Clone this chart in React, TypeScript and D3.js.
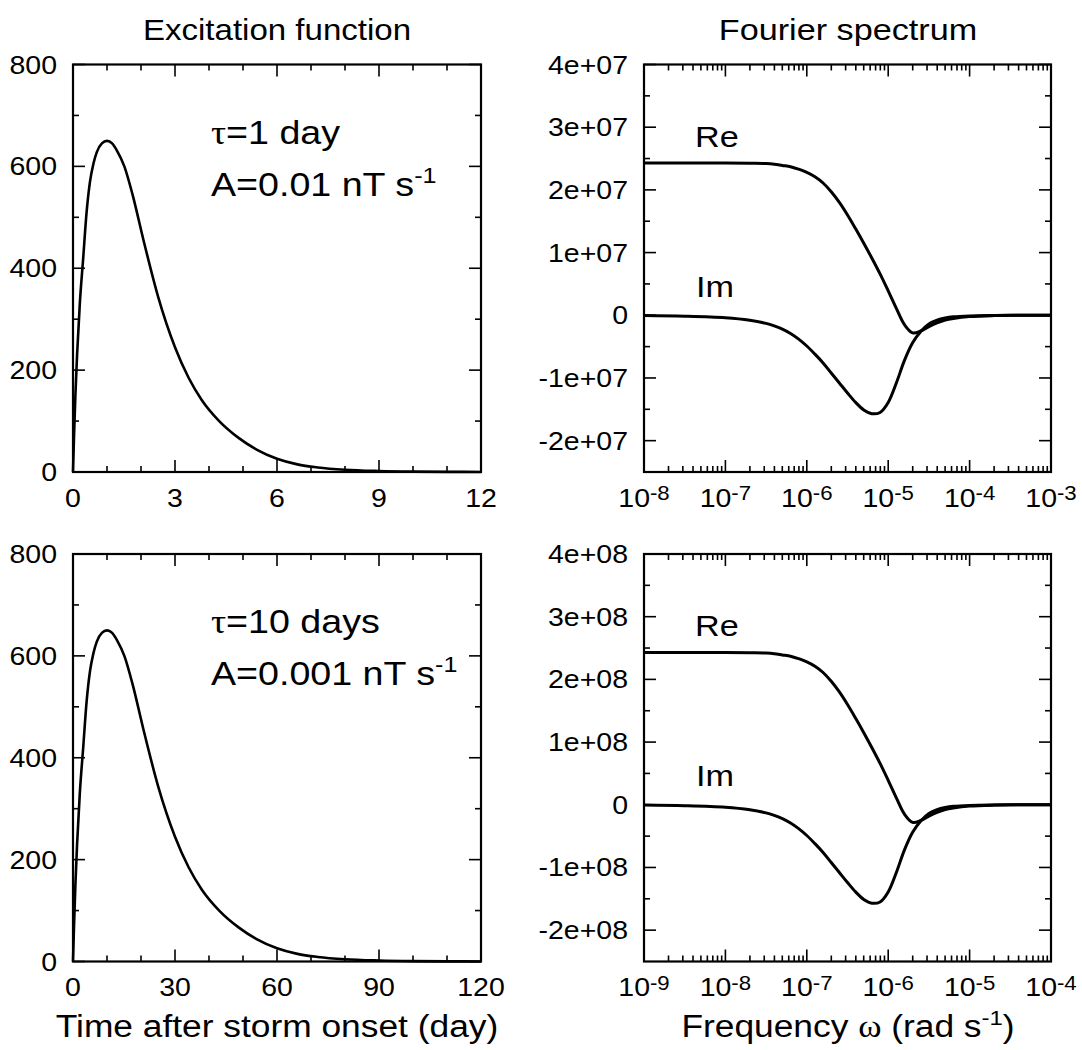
import React from 'react';
import * as d3 from 'd3';

const SX = 1.14;
const FONT = '"Liberation Sans", Arial, Helvetica, sans-serif';
const SERIF = '"Liberation Serif", "Times New Roman", serif';

// ---- Excitation function data ----
const daysTau1 = [0, 0.03, 0.07, 0.12, 0.2, 0.3, 0.4, 0.5, 0.6, 0.7, 0.85, 1.0, 1.15, 1.3, 1.51, 1.75, 2.07, 2.5, 3.0, 3.4, 3.79, 4.3, 4.87, 5.4, 6.0, 6.6, 7.2, 8.0, 9.0, 10.0, 11.0, 12.0];
const daysTau10 = [0, 0.3, 0.7, 1.2, 2, 3, 4, 5, 6, 7, 8.5, 10, 11.5, 13, 15.1, 17.5, 20.7, 25, 30, 34, 37.9, 43, 48.7, 54, 60, 66, 72, 80, 90, 100, 110, 120];
const excitationTau1 = [0, 70, 150, 230, 330, 420, 510, 570, 605, 628, 645, 650, 645, 630, 600, 545, 456, 345, 245, 185, 141, 100, 67, 44, 26, 15, 9, 4.5, 2, 0.8, 0.3, 0.1];
const excitationTau10 = [0, 70, 150, 230, 330, 420, 510, 570, 605, 628, 645, 650, 645, 630, 600, 545, 456, 345, 245, 185, 141, 100, 67, 44, 26, 15, 9, 4.5, 2, 0.8, 0.3, 0.1];

// ---- Fourier spectrum data ----
// log10 of angular frequency (rad/s)
const logOmegaTop = [-8, -7.5, -7, -6.7, -6.5, -6.4, -6.3, -6.2, -6.1, -6.0, -5.9, -5.8, -5.7, -5.6, -5.5, -5.4, -5.3, -5.2, -5.1, -5.0, -4.9, -4.8, -4.7, -4.6, -4.5, -4.4, -4.3, -4.2, -4.0, -3.7, -3.3, -3];
const logOmegaBottom = [-9, -8.5, -8, -7.7, -7.5, -7.4, -7.3, -7.2, -7.1, -7.0, -6.9, -6.8, -6.7, -6.6, -6.5, -6.4, -6.3, -6.2, -6.1, -6.0, -5.9, -5.8, -5.7, -5.6, -5.5, -5.4, -5.3, -5.2, -5.0, -4.7, -4.3, -4];
const reTop = [2.43e7, 2.43e7, 2.43e7, 2.425e7, 2.42e7, 2.41e7, 2.39e7, 2.37e7, 2.33e7, 2.28e7, 2.21e7, 2.11e7, 1.97e7, 1.8e7, 1.6e7, 1.38e7, 1.15e7, 0.91e7, 0.66e7, 0.39e7, 0.11e7, -0.15e7, -0.28e7, -0.25e7, -0.18e7, -0.12e7, -0.075e7, -0.05e7, -0.02e7, -0.005e7, 0, 0];
const imTop = [-0.005e7, -0.015e7, -0.04e7, -0.08e7, -0.13e7, -0.17e7, -0.22e7, -0.29e7, -0.38e7, -0.49e7, -0.62e7, -0.76e7, -0.92e7, -1.08e7, -1.24e7, -1.39e7, -1.51e7, -1.57e7, -1.55e7, -1.39e7, -1.08e7, -0.72e7, -0.44e7, -0.26e7, -0.14e7, -0.08e7, -0.045e7, -0.025e7, -0.01e7, -0.003e7, 0, 0];
const reBottom = [2.43e8, 2.43e8, 2.43e8, 2.425e8, 2.42e8, 2.41e8, 2.39e8, 2.37e8, 2.33e8, 2.28e8, 2.21e8, 2.11e8, 1.97e8, 1.8e8, 1.6e8, 1.38e8, 1.15e8, 0.91e8, 0.66e8, 0.39e8, 0.11e8, -0.15e8, -0.28e8, -0.25e8, -0.18e8, -0.12e8, -0.075e8, -0.05e8, -0.02e8, -0.005e8, 0, 0];
const imBottom = [-0.005e8, -0.015e8, -0.04e8, -0.08e8, -0.13e8, -0.17e8, -0.22e8, -0.29e8, -0.38e8, -0.49e8, -0.62e8, -0.76e8, -0.92e8, -1.08e8, -1.24e8, -1.39e8, -1.51e8, -1.57e8, -1.55e8, -1.39e8, -1.08e8, -0.72e8, -0.44e8, -0.26e8, -0.14e8, -0.08e8, -0.045e8, -0.025e8, -0.01e8, -0.003e8, 0, 0];

// ---- tick definitions ----
const ticksExcY = [0, 200, 400, 600, 800];
const ticksDaysTau1 = [0, 3, 6, 9, 12];
const ticksDaysTau10 = [0, 30, 60, 90, 120];
const ticksSpecTop = [-2e7, -1e7, 0, 1e7, 2e7, 3e7, 4e7];
const ticksSpecBottom = [-2e8, -1e8, 0, 1e8, 2e8, 3e8, 4e8];
const labelsSpecTop = ['-2e+07', '-1e+07', '0', '1e+07', '2e+07', '3e+07', '4e+07'];
const labelsSpecBottom = ['-2e+08', '-1e+08', '0', '1e+08', '2e+08', '3e+08', '4e+08'];
const decadesTop = [-8, -7, -6, -5, -4, -3];
const decadesBottom = [-9, -8, -7, -6, -5, -4];

type TProps = { x: number; y: number; size: number; anchor?: string; children?: any; family?: string };
function T({ x, y, size, anchor = 'start', children, family = FONT }: TProps) {
  return (
    <text transform={`translate(${x},${y}) scale(${SX},1)`} fontSize={size} textAnchor={anchor} fontFamily={family} fill="#000">
      {children}
    </text>
  );
}

const MAJ = 12;
const MIN = 6;
const TICK_FS = 25;

function Frame({ xs, ys, xMajor, xMinor, yMajor, yMinor, xLabel, yLabels }: any) {
  const [x0, x1] = xs.range();
  const [y1, y0] = ys.range();
  const els: any[] = [];
  xMinor.forEach((v: number, i: number) => {
    const x = xs(v);
    els.push(<line key={'xm' + i} x1={x} x2={x} y1={y1} y2={y1 - MIN} />);
    els.push(<line key={'xmt' + i} x1={x} x2={x} y1={y0} y2={y0 + MIN} />);
  });
  xMajor.forEach((v: number, i: number) => {
    const x = xs(v);
    els.push(<line key={'xM' + i} x1={x} x2={x} y1={y1} y2={y1 - MAJ} />);
    els.push(<line key={'xMt' + i} x1={x} x2={x} y1={y0} y2={y0 + MAJ} />);
  });
  yMinor.forEach((v: number, i: number) => {
    const y = ys(v);
    els.push(<line key={'ym' + i} x1={x0} x2={x0 + MIN} y1={y} y2={y} />);
    els.push(<line key={'ymr' + i} x1={x1} x2={x1 - MIN} y1={y} y2={y} />);
  });
  yMajor.forEach((v: number, i: number) => {
    const y = ys(v);
    els.push(<line key={'yM' + i} x1={x0} x2={x0 + MAJ} y1={y} y2={y} />);
    els.push(<line key={'yMr' + i} x1={x1} x2={x1 - MAJ} y1={y} y2={y} />);
  });
  return (
    <g>
      <g stroke="#000" strokeWidth={1.6}>{els}</g>
      <rect x={x0} y={y0} width={x1 - x0} height={y1 - y0} fill="none" stroke="#000" strokeWidth={2.2} />
      {xMajor.map((v: number, i: number) => (
        <g key={'xl' + i}>{xLabel(v, xs(v), y1 + 34.5)}</g>
      ))}
      {yMajor.map((v: number, i: number) => (
        <T key={'yl' + i} x={x0 - 16} y={ys(v) + 9} size={TICK_FS} anchor="end">{yLabels[i]}</T>
      ))}
    </g>
  );
}

function linearLabel(v: number, x: number, y: number) {
  return <T x={x} y={y} size={TICK_FS} anchor="middle">{String(v)}</T>;
}
function logLabel(v: number, x: number, y: number) {
  const e = Math.round(Math.log10(v));
  return (
    <T x={x} y={y} size={TICK_FS} anchor="middle">
      <tspan>10</tspan>
      <tspan fontSize={19.5} dy={-6.5}>{String(e)}</tspan>
    </T>
  );
}

function ExcPanel({ y0, y1, days, vals, dayTicks, tauText, aText }: any) {
  const xs = d3.scaleLinear().domain([0, dayTicks[dayTicks.length - 1]]).range([73, 481]);
  const ys = d3.scaleLinear().domain([0, 800]).range([y1, y0]);
  const step = dayTicks[1] / 3;
  const xMinor = d3.range(0, dayTicks[dayTicks.length - 1] + 1e-9, step).filter((v) => !dayTicks.some((t: number) => Math.abs(t - v) < 1e-6));
  const yMinor = [100, 300, 500, 700];
  const line = d3.line<[number, number]>().x((d) => xs(d[0])).y((d) => ys(d[1])).curve(d3.curveMonotoneX);
  const pts = days.map((d: number, i: number) => [d, vals[i]] as [number, number]);
  return (
    <g>
      <path d={line(pts) || ''} fill="none" stroke="#000" strokeWidth={2.6} strokeLinejoin="round" />
      <Frame xs={xs} ys={ys} xMajor={dayTicks} xMinor={xMinor} yMajor={ticksExcY} yMinor={yMinor} xLabel={linearLabel} yLabels={ticksExcY.map(String)} />
      <T x={211} y={y0 + 79} size={33}>
        <tspan fontFamily={SERIF}>τ</tspan>
        <tspan>{tauText}</tspan>
      </T>
      <T x={211} y={y0 + 131} size={33}>
        <tspan>{aText}</tspan>
        <tspan fontSize={22} dy={-13}>-1</tspan>
      </T>
    </g>
  );
}

function SpecPanel({ y0, y1, logOmega, re, im, decades, yTicks, yLabels }: any) {
  const xs = d3.scaleLog().domain([Math.pow(10, decades[0]), Math.pow(10, decades[decades.length - 1])]).range([644, 1051]);
  const unit = yTicks[3] - yTicks[2];
  const ys = d3.scaleLinear().domain([-2.5 * unit, 4 * unit]).range([y1, y0]);
  const xMajor = decades.map((e: number) => Math.pow(10, e));
  const xMinor: number[] = [];
  decades.slice(0, -1).forEach((e: number) => {
    for (let k = 2; k <= 9; k++) xMinor.push(k * Math.pow(10, e));
  });
  const yMinor = [-1.5, -0.5, 0.5, 1.5, 2.5, 3.5].map((k) => k * unit);
  const line = d3.line<[number, number]>().x((d) => xs(d[0])).y((d) => ys(d[1])).curve(d3.curveCatmullRom.alpha(0.5));
  const rePts = logOmega.map((l: number, i: number) => [Math.pow(10, l), re[i]] as [number, number]);
  const imPts = logOmega.map((l: number, i: number) => [Math.pow(10, l), im[i]] as [number, number]);
  return (
    <g>
      <path d={line(rePts) || ''} fill="none" stroke="#000" strokeWidth={3} strokeLinejoin="round" />
      <path d={line(imPts) || ''} fill="none" stroke="#000" strokeWidth={3} strokeLinejoin="round" />
      <Frame xs={xs} ys={ys} xMajor={xMajor} xMinor={xMinor} yMajor={yTicks} yMinor={yMinor} xLabel={logLabel} yLabels={yLabels} />
      <T x={695} y={y0 + 82} size={30}>Re</T>
      <T x={696} y={y0 + 232} size={30}>Im</T>
    </g>
  );
}

export default function App() {
  const rows = [
    { y0: 64.5, y1: 472 },
    { y0: 554, y1: 961.5 },
  ];
  return (
    <svg width={1082} height={1050} style={{ position: 'absolute', left: 0, top: 0, background: '#fff' }} fontFamily={FONT}>
      <rect x={0} y={0} width={1082} height={1050} fill="#fff" />
      <T x={277} y={40} size={29} anchor="middle">Excitation function</T>
      <T x={848} y={40} size={30} anchor="middle">Fourier spectrum</T>

      <ExcPanel y0={rows[0].y0} y1={rows[0].y1} days={daysTau1} vals={excitationTau1} dayTicks={ticksDaysTau1} tauText="=1 day" aText="A=0.01 nT s" />
      <ExcPanel y0={rows[1].y0} y1={rows[1].y1} days={daysTau10} vals={excitationTau10} dayTicks={ticksDaysTau10} tauText="=10 days" aText="A=0.001 nT s" />

      <SpecPanel y0={rows[0].y0} y1={rows[0].y1} logOmega={logOmegaTop} re={reTop} im={imTop} decades={decadesTop} yTicks={ticksSpecTop} yLabels={labelsSpecTop} />
      <SpecPanel y0={rows[1].y0} y1={rows[1].y1} logOmega={logOmegaBottom} re={reBottom} im={imBottom} decades={decadesBottom} yTicks={ticksSpecBottom} yLabels={labelsSpecBottom} />

      <T x={277} y={1037} size={31} anchor="middle">Time after storm onset (day)</T>
      <T x={848} y={1037} size={31} anchor="middle">
        <tspan>Frequency </tspan>
        <tspan fontFamily={SERIF}>ω</tspan>
        <tspan> (rad s</tspan>
        <tspan fontSize={21} dy={-12}>-1</tspan>
        <tspan dy={12}>)</tspan>
      </T>
    </svg>
  );
}
